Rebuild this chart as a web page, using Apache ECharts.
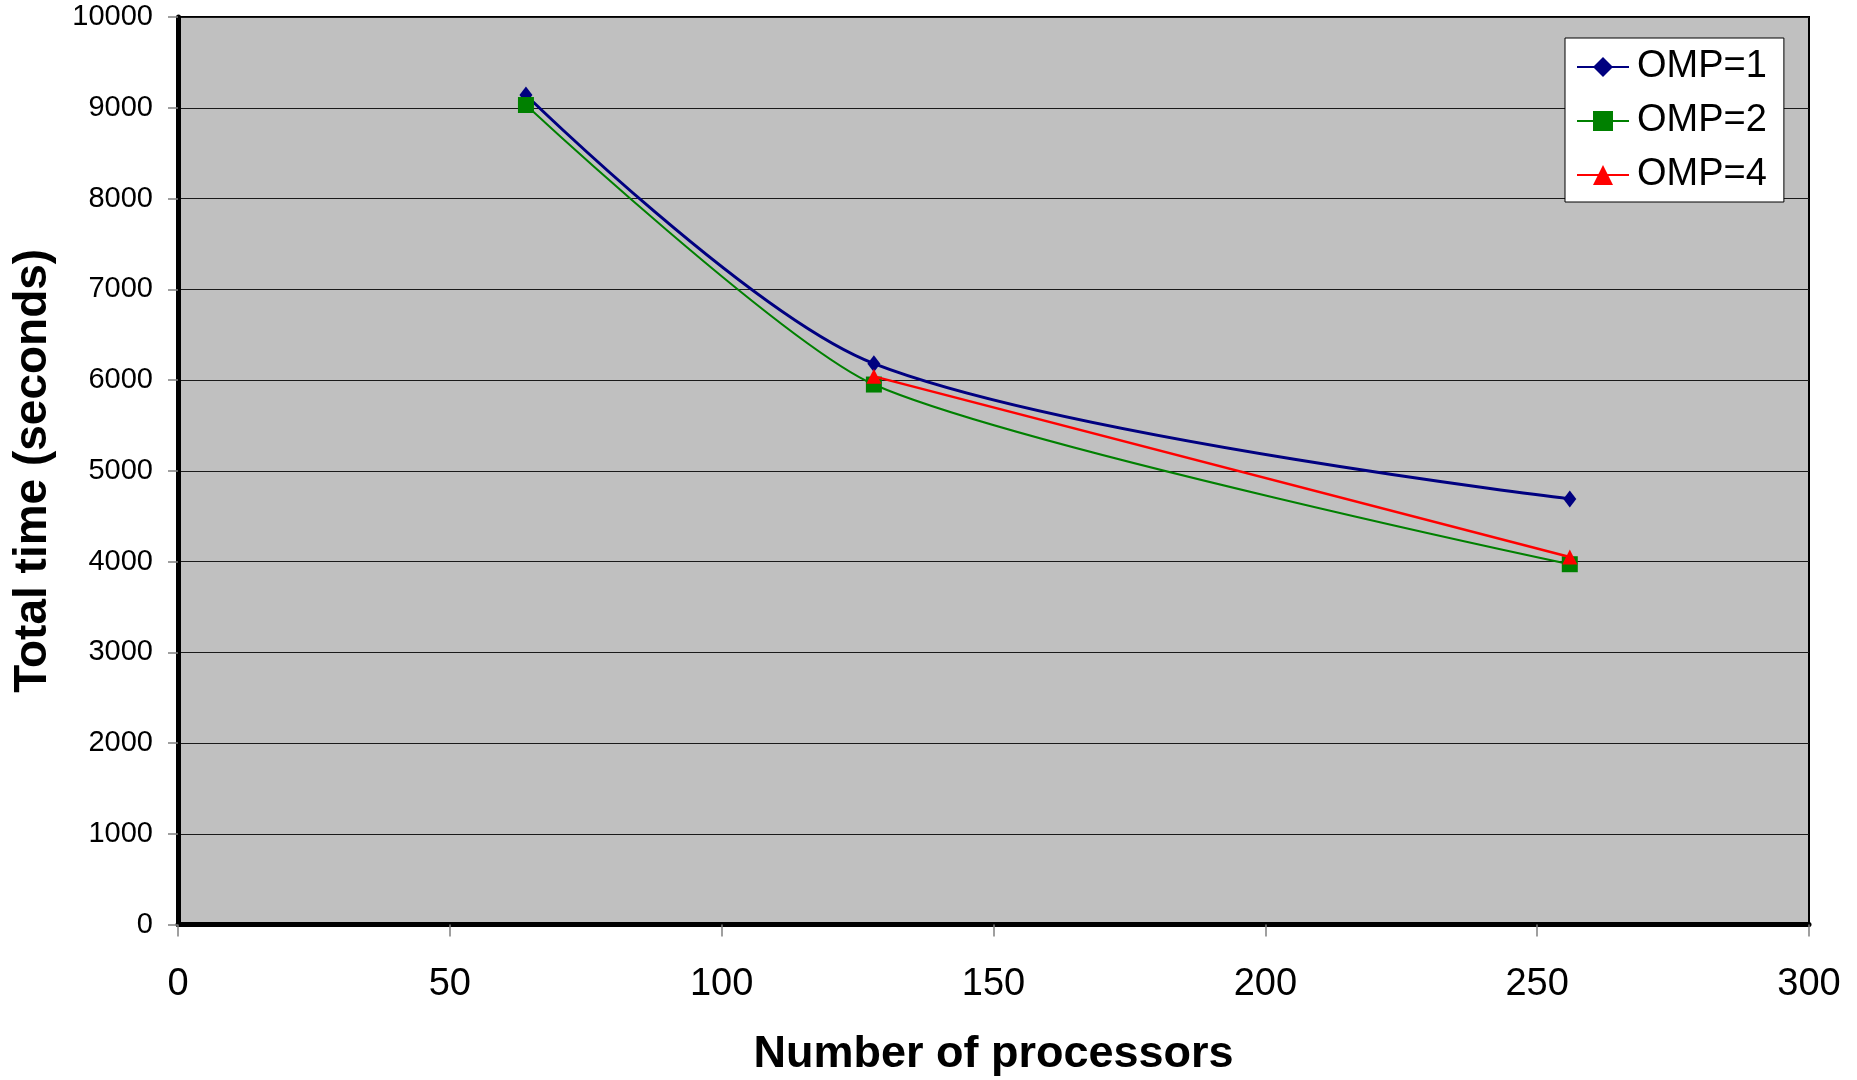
<!DOCTYPE html>
<html>
<head>
<meta charset="utf-8">
<title>Total time vs number of processors</title>
<script src="https://cdn.jsdelivr.net/npm/echarts@6/dist/echarts.min.js"></script>
<style>
  html, body { margin: 0; padding: 0; background: #fff; }
  #chart { width: 1857px; height: 1080px; }
</style>
</head>
<body>
<div id="chart"></div>
<script>
// Number of MPI processes on the x axis
var processors = [64, 128, 256];

// Total run time (seconds) for each OpenMP thread count
var timeOmp1 = [9140, 6180, 4690];
var timeOmp2 = [9030, 5950, 3970];
var timeOmp4 = [null, 6040, 4050];

var seriesNames = ['OMP=1', 'OMP=2', 'OMP=4'];

var xTicks = { min: 0, max: 300, interval: 50 };
var yTicks = { min: 0, max: 10000, interval: 1000 };

var FONT = '"Liberation Sans", Arial, Helvetica, sans-serif';

function pairs(xs, ys) {
  var out = [];
  for (var i = 0; i < xs.length; i++) {
    if (ys[i] !== null && ys[i] !== undefined) out.push([xs[i], ys[i]]);
  }
  return out;
}

var chart = echarts.init(document.getElementById('chart'), null, { renderer: 'canvas' });

chart.setOption({
  animation: false,
  backgroundColor: '#ffffff',
  grid: {
    left: 178,
    right: 48,
    top: 17,
    bottom: 155.5,
    outerBoundsMode: 'none',
    containLabel: false,
    show: true,
    backgroundColor: '#C0C0C0',
    borderColor: '#000000',
    borderWidth: 2
  },
  legend: {
    left: 1565,
    top: 38,
    orient: 'vertical',
    backgroundColor: '#ffffff',
    borderColor: '#000000',
    borderWidth: 1,
    borderRadius: 0,
    padding: [10, 17, 8, 11],
    itemWidth: 52,
    itemHeight: 25,
    itemGap: 16,
    textStyle: { fontFamily: FONT, fontSize: 38, color: '#000000', padding: [0, 0, 0, 3] },
    data: seriesNames
  },
  xAxis: {
    type: 'value',
    min: xTicks.min,
    max: xTicks.max,
    interval: xTicks.interval,
    name: 'Number of processors',
    nameLocation: 'middle',
    nameGap: 108,
    nameTextStyle: { fontFamily: FONT, fontSize: 45, fontWeight: 'bold', color: '#000000' },
    axisLine: { show: true, onZero: false, lineStyle: { color: '#000000', width: 5 } },
    axisTick: { show: true, length: 12, lineStyle: { color: '#808080', width: 1.5 } },
    axisLabel: { fontFamily: FONT, fontSize: 38, color: '#000000', margin: 41 },
    splitLine: { show: false }
  },
  yAxis: {
    type: 'value',
    min: yTicks.min,
    max: yTicks.max,
    interval: yTicks.interval,
    name: 'Total time (seconds)',
    nameLocation: 'middle',
    nameGap: 122,
    nameTextStyle: { fontFamily: FONT, fontSize: 46, fontWeight: 'bold', color: '#000000' },
    axisLine: { show: true, onZero: false, lineStyle: { color: '#000000', width: 5 } },
    axisTick: { show: true, length: 10, lineStyle: { color: '#808080', width: 1.5 } },
    axisLabel: {
      fontFamily: FONT, fontSize: 29, color: '#000000', margin: 25,
      formatter: function (v) { return String(v); }
    },
    splitLine: { show: true, lineStyle: { color: '#1a1a1a', width: 1.2 } }
  },
  series: [
    {
      name: seriesNames[0],
      type: 'line',
      data: pairs(processors, timeOmp1),
      smooth: 0.3,
      symbol: 'diamond',
      symbolSize: [13, 17],
      lineStyle: { color: '#000080', width: 3 },
      itemStyle: { color: '#000080' },
      z: 2
    },
    {
      name: seriesNames[1],
      type: 'line',
      data: pairs(processors, timeOmp2),
      smooth: 0.22,
      symbol: 'rect',
      symbolSize: 16,
      lineStyle: { color: '#008000', width: 2 },
      itemStyle: { color: '#008000' },
      z: 3
    },
    {
      name: seriesNames[2],
      type: 'line',
      data: pairs(processors, timeOmp4),
      smooth: false,
      symbol: 'triangle',
      symbolSize: 15,
      lineStyle: { color: '#FF0000', width: 2.5 },
      itemStyle: { color: '#FF0000' },
      z: 4
    }
  ]
});
</script>
</body>
</html>
